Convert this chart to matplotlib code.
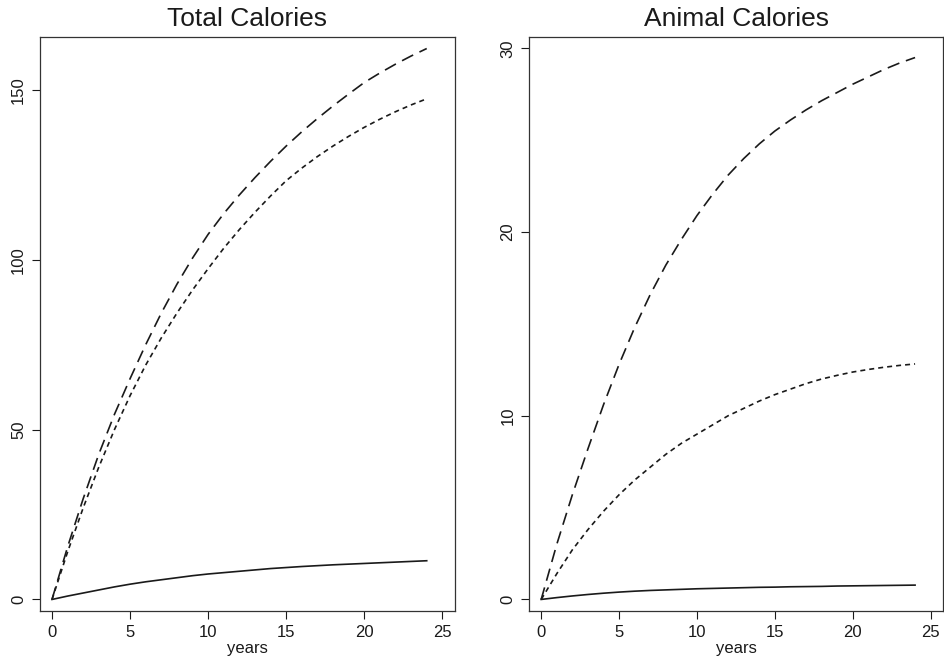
import matplotlib
matplotlib.use("Agg")
from matplotlib import pyplot as plt

plt.rcParams['font.family'] = ['Liberation Sans', 'DejaVu Sans']
plt.rcParams['lines.scale_dashes'] = False

years = list(range(25))

# Total Calories
total_solid = [0, 1.0, 1.9, 2.8, 3.7, 4.5, 5.2, 5.8, 6.4, 7.0, 7.5, 7.9, 8.3,
               8.7, 9.1, 9.4, 9.7, 9.95, 10.2, 10.4, 10.6, 10.8, 11.0, 11.2, 11.4]
total_short = [0, 14, 27, 39, 50, 60, 69, 77, 84.3, 91.1, 97.4, 103.4, 108.9,
               114.0, 118.8, 123.3, 127.0, 130.4, 133.5, 136.35, 139.0, 141.4,
               143.6, 145.6, 147.4]
total_long = [0, 15.5, 29.7, 42.8, 54.5, 65.0, 75.0, 84.3, 92.8, 100.5, 107.5,
              113.6, 119.1, 124.2, 129.0, 133.5, 137.7, 141.6, 145.3, 148.8,
              152.2, 155.0, 157.6, 160.0, 162.2]

# Animal Calories
animal_solid = [0, 0.10, 0.19, 0.27, 0.34, 0.40, 0.45, 0.49, 0.52, 0.55, 0.58,
                0.60, 0.62, 0.64, 0.66, 0.67, 0.69, 0.70, 0.71, 0.73, 0.74,
                0.75, 0.76, 0.77, 0.78]
animal_short = [0, 1.4, 2.7, 3.8, 4.8, 5.7, 6.5, 7.2, 7.9, 8.5, 9.0, 9.5, 10.0,
                10.4, 10.8, 11.15, 11.45, 11.75, 12.0, 12.2, 12.38, 12.52,
                12.64, 12.74, 12.82]
animal_long = [0, 3.0, 5.7, 8.2, 10.6, 12.8, 14.8, 16.6, 18.2, 19.6, 20.9,
               22.05, 23.1, 24.0, 24.8, 25.5, 26.1, 26.65, 27.15, 27.6, 28.05,
               28.45, 28.85, 29.2, 29.5]

ink = '#1a1a1a'

fig = plt.figure(figsize=(9.45, 6.64), dpi=100)
ax1 = fig.add_axes([0.0423, 0.0798, 0.439, 0.8645])
ax2 = fig.add_axes([0.560, 0.0798, 0.438, 0.8645])

panels = [
    (ax1, 'Total Calories', total_solid, total_short, total_long,
     (-3.4, 165.6), [0, 50, 100, 150]),
    (ax2, 'Animal Calories', animal_solid, animal_short, animal_long,
     (-0.63, 30.62), [0, 10, 20, 30]),
]

for ax, title, solid, short, long_, ylim, yticks in panels:
    ax.plot(years, solid, color=ink, lw=1.2)
    ax.plot(years, short, color=ink, lw=1.2, dashes=(3.6, 2.9))
    ax.plot(years, long_, color=ink, lw=1.2, dashes=(9, 5))
    ax.set_xlim(-0.77, 25.8)
    ax.set_ylim(*ylim)
    ax.set_xticks([0, 5, 10, 15, 20, 25])
    ax.set_yticks(yticks)
    ax.set_title(title, fontsize=19, color=ink, pad=8)
    ax.set_xlabel('years', fontsize=12, color=ink, labelpad=1)
    ax.tick_params(direction='out', length=6, width=0.8, colors=ink,
                   labelsize=12)
    ax.tick_params(axis='x', pad=4)
    ax.tick_params(axis='y', labelrotation=90, pad=4)
    for lab in ax.get_yticklabels():
        lab.set_va('center')
    for sp in ax.spines.values():
        sp.set_linewidth(0.9)
        sp.set_color('#333333')

fig.savefig('out.png', dpi=100)
